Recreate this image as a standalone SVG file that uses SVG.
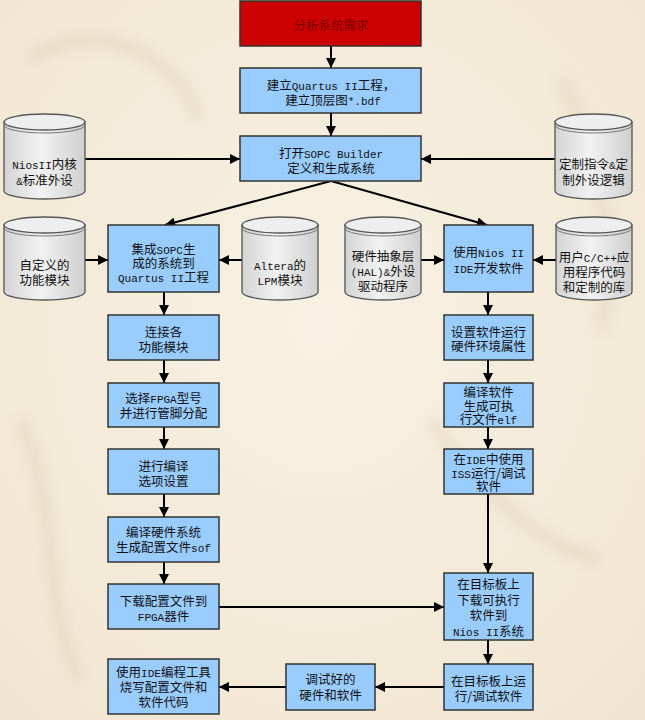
<svg xmlns="http://www.w3.org/2000/svg" width="645" height="720" viewBox="0 0 645 720">
<style>
.bx{fill:#99ccff;stroke:#333;stroke-width:1.5}
.red{fill:#cc0000;stroke:#333;stroke-width:1.5}
.cy{fill:url(#cg);stroke:#555;stroke-width:1.3}
.cyt{fill:#eeeeee;stroke:#555;stroke-width:1.3}
.cyl{fill:none;stroke:#777;stroke-width:1}
.t{font-family:"Noto Sans CJK SC",sans-serif;font-size:12.5px;fill:#111;text-anchor:middle}
.m{font-family:"Liberation Mono",monospace;font-size:11px}
.rt{fill:#7a0000}
.c{stroke:#000;stroke-width:2;fill:none;marker-end:url(#ah)}
</style>
<defs>
<marker id="ah" viewBox="0 0 10 10" refX="10" refY="5" markerWidth="5.5" markerHeight="5" markerUnits="strokeWidth" orient="auto">
<path d="M0,0 L10,5 L0,10 Z" fill="#000"/>
</marker>
<linearGradient id="cg" x1="0" y1="0" x2="1" y2="0">
<stop offset="0" stop-color="#d4d4d4"/>
<stop offset="0.45" stop-color="#f2f2f2"/>
<stop offset="1" stop-color="#cfcfcf"/>
</linearGradient>
<radialGradient id="bg" cx="0.5" cy="0.45" r="0.75">
<stop offset="0" stop-color="#f8f1e3"/>
<stop offset="1" stop-color="#f0e5d0"/>
</radialGradient>
<filter id="blur" x="-20%" y="-20%" width="140%" height="140%"><feGaussianBlur stdDeviation="6"/></filter>
</defs>
<rect x="0" y="0" width="645" height="720" fill="url(#bg)"/>
<g id="bgdeco" fill="none" stroke="#e2d2b8" stroke-width="14" opacity="0.45" filter="url(#blur)">
<path d="M30,60 C80,20 170,40 200,120"/>
<path d="M560,80 C600,140 620,260 600,330"/>
<path d="M430,420 C470,470 520,540 600,560"/>
<path d="M20,420 C60,500 40,600 80,680"/>
</g>

<g id="connectors">
<line class="c" x1="331" y1="46" x2="331" y2="68"/>
<line class="c" x1="331" y1="113" x2="331" y2="136"/>
<line class="c" x1="85" y1="159" x2="240" y2="159"/>
<line class="c" x1="555" y1="159" x2="421" y2="159"/>
<line class="c" x1="331" y1="181" x2="165" y2="225"/>
<line class="c" x1="331" y1="181" x2="487" y2="225"/>
<line class="c" x1="85" y1="260" x2="108" y2="260"/>
<line class="c" x1="242" y1="260" x2="219" y2="260"/>
<line class="c" x1="421" y1="260" x2="444" y2="260"/>
<line class="c" x1="556" y1="260" x2="533" y2="260"/>
<line class="c" x1="164" y1="292" x2="164" y2="315"/>
<line class="c" x1="164" y1="360" x2="164" y2="383"/>
<line class="c" x1="164" y1="427" x2="164" y2="449"/>
<line class="c" x1="164" y1="494" x2="164" y2="517"/>
<line class="c" x1="164" y1="562" x2="164" y2="584"/>
<line class="c" x1="488" y1="292" x2="488" y2="315"/>
<line class="c" x1="488" y1="360" x2="488" y2="383"/>
<line class="c" x1="488" y1="427" x2="488" y2="449"/>
<line class="c" x1="488" y1="494" x2="488" y2="573"/>
<line class="c" x1="219" y1="607" x2="444" y2="607"/>
<line class="c" x1="488" y1="640" x2="488" y2="664"/>
<line class="c" x1="444" y1="687" x2="375" y2="687"/>
<line class="c" x1="286" y1="687" x2="219" y2="687"/>
</g>

<g id="n1"><rect class="red" x="240" y="1" width="181" height="45"/>
<text class="t rt" x="331" y="29.5">分析系统需求</text></g>

<g id="n2"><rect class="bx" x="240" y="68" width="181" height="45"/>
<text class="t" x="331" y="90">建立<tspan class="m">Quartus II</tspan>工程，</text>
<text class="t" x="333" y="105">建立顶层图<tspan class="m">*.bdf</tspan></text></g>

<g id="n3"><rect class="bx" x="240" y="136" width="181" height="45"/>
<text class="t" x="331" y="158">打开<tspan class="m">SOPC Builder</tspan></text>
<text class="t" x="331" y="173">定义和生成系统</text></g>

<g id="cylA">
<path class="cy" d="M4,122 L4,191 A40.5,8 0 0 0 85,191 L85,122 Z"/>
<ellipse class="cyt" cx="44.5" cy="122" rx="40.5" ry="8"/>
<path class="cyl" d="M4,125 A40.5,8 0 0 0 85,125"/>
<text class="t" x="44.5" y="169"><tspan class="m">NiosII</tspan>内核</text>
<text class="t" x="44.5" y="185"><tspan class="m">&amp;</tspan>标准外设</text></g>

<g id="cylB">
<path class="cy" d="M555,122 L555,191 A38.5,8 0 0 0 632,191 L632,122 Z"/>
<ellipse class="cyt" cx="593.5" cy="122" rx="38.5" ry="8"/>
<path class="cyl" d="M555,125 A38.5,8 0 0 0 632,125"/>
<text class="t" x="593.5" y="169">定制指令<tspan class="m">&amp;</tspan>定</text>
<text class="t" x="593.5" y="185">制外设逻辑</text></g>

<g id="cylC">
<path class="cy" d="M4,225 L4,292 A40.5,8 0 0 0 85,292 L85,225 Z"/>
<ellipse class="cyt" cx="44.5" cy="225" rx="40.5" ry="8"/>
<path class="cyl" d="M4,228 A40.5,8 0 0 0 85,228"/>
<text class="t" x="44.5" y="270">自定义的</text>
<text class="t" x="44.5" y="285">功能模块</text></g>

<g id="n7"><rect class="bx" x="108" y="225" width="111" height="67"/>
<text class="t" x="163.5" y="254">集成<tspan class="m">SOPC</tspan>生</text>
<text class="t" x="163.5" y="268">成的系统到</text>
<text class="t" x="163.5" y="282"><tspan class="m">Quartus II</tspan>工程</text></g>

<g id="cylD">
<path class="cy" d="M242,225 L242,292 A38,8 0 0 0 318,292 L318,225 Z"/>
<ellipse class="cyt" cx="280" cy="225" rx="38" ry="8"/>
<path class="cyl" d="M242,228 A38,8 0 0 0 318,228"/>
<text class="t" x="280" y="270"><tspan class="m">Altera</tspan>的</text>
<text class="t" x="280" y="285"><tspan class="m">LPM</tspan>模块</text></g>

<g id="cylE">
<path class="cy" d="M345,225 L345,292 A38,8 0 0 0 421,292 L421,225 Z"/>
<ellipse class="cyt" cx="383" cy="225" rx="38" ry="8"/>
<path class="cyl" d="M345,228 A38,8 0 0 0 421,228"/>
<text class="t" x="383" y="261">硬件抽象层</text>
<text class="t" x="383" y="276"><tspan class="m">(HAL)&amp;</tspan>外设</text>
<text class="t" x="383" y="291">驱动程序</text></g>

<g id="n10"><rect class="bx" x="444" y="225" width="89" height="67"/>
<text class="t" x="488.5" y="257">使用<tspan class="m">Nios II</tspan></text>
<text class="t" x="488.5" y="273"><tspan class="m">IDE</tspan>开发软件</text></g>

<g id="cylF">
<path class="cy" d="M556,225 L556,292 A38,8 0 0 0 632,292 L632,225 Z"/>
<ellipse class="cyt" cx="594" cy="225" rx="38" ry="8"/>
<path class="cyl" d="M556,228 A38,8 0 0 0 632,228"/>
<text class="t" x="594" y="262">用户<tspan class="m">C/C++</tspan>应</text>
<text class="t" x="594" y="277">用程序代码</text>
<text class="t" x="594" y="292">和定制的库</text></g>

<g id="n12"><rect class="bx" x="108" y="315" width="111" height="45"/>
<text class="t" x="163.5" y="337">连接各</text>
<text class="t" x="163.5" y="352">功能模块</text></g>

<g id="n13"><rect class="bx" x="444" y="315" width="89" height="45"/>
<text class="t" x="488.5" y="337">设置软件运行</text>
<text class="t" x="488.5" y="351">硬件环境属性</text></g>

<g id="n14"><rect class="bx" x="108" y="383" width="111" height="44"/>
<text class="t" x="163.5" y="403">选择<tspan class="m">FPGA</tspan>型号</text>
<text class="t" x="163.5" y="418">并进行管脚分配</text></g>

<g id="n15"><rect class="bx" x="444" y="383" width="89" height="44"/>
<text class="t" x="488.5" y="397">编译软件</text>
<text class="t" x="488.5" y="410.5">生成可执</text>
<text class="t" x="488.5" y="424">行文件<tspan class="m">elf</tspan></text></g>

<g id="n16"><rect class="bx" x="108" y="449" width="111" height="45"/>
<text class="t" x="163.5" y="471">进行编译</text>
<text class="t" x="163.5" y="486">选项设置</text></g>

<g id="n17"><rect class="bx" x="444" y="449" width="89" height="45"/>
<text class="t" x="488.5" y="464">在<tspan class="m">IDE</tspan>中使用</text>
<text class="t" x="488.5" y="477.5"><tspan class="m">ISS</tspan>运行/调试</text>
<text class="t" x="488.5" y="491">软件</text></g>

<g id="n18"><rect class="bx" x="108" y="517" width="111" height="45"/>
<text class="t" x="163.5" y="537">编译硬件系统</text>
<text class="t" x="163.5" y="552">生成配置文件<tspan class="m">sof</tspan></text></g>

<g id="n19"><rect class="bx" x="108" y="584" width="111" height="45"/>
<text class="t" x="163.5" y="606">下载配置文件到</text>
<text class="t" x="163.5" y="621"><tspan class="m">FPGA</tspan>器件</text></g>

<g id="n20"><rect class="bx" x="444" y="573" width="89" height="67"/>
<text class="t" x="488.5" y="589">在目标板上</text>
<text class="t" x="488.5" y="605">下载可执行</text>
<text class="t" x="488.5" y="620">软件到</text>
<text class="t" x="488.5" y="636"><tspan class="m">Nios II</tspan>系统</text></g>

<g id="n21"><rect class="bx" x="444" y="664" width="89" height="46"/>
<text class="t" x="488.5" y="686">在目标板上运</text>
<text class="t" x="488.5" y="701">行/调试软件</text></g>

<g id="n22"><rect class="bx" x="286" y="664" width="89" height="46"/>
<text class="t" x="330.5" y="684">调试好的</text>
<text class="t" x="330.5" y="700">硬件和软件</text></g>

<g id="n23"><rect class="bx" x="108" y="659" width="111" height="55"/>
<text class="t" x="163.5" y="677">使用<tspan class="m">IDE</tspan>编程工具</text>
<text class="t" x="163.5" y="692">烧写配置文件和</text>
<text class="t" x="163.5" y="707">软件代码</text></g>
</svg>
